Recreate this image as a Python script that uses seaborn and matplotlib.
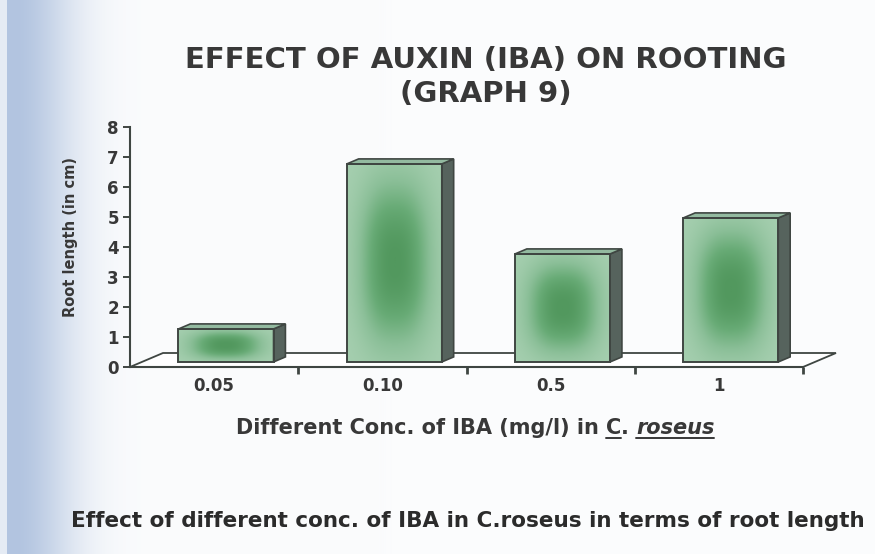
import numpy as np
import pandas as pd
import matplotlib
matplotlib.use("Agg")
import matplotlib.pyplot as plt
import seaborn as sns
from matplotlib.colors import LinearSegmentedColormap
from matplotlib.patches import Polygon
from matplotlib.lines import Line2D

# data
concentrations = ["0.05", "0.10", "0.5", "1"]
root_length = [1.1, 6.6, 3.6, 4.8]
y_ticks = [0, 1, 2, 3, 4, 5, 6, 7, 8]

TITLE = "EFFECT OF AUXIN (IBA) ON ROOTING\n(GRAPH 9)"
Y_LABEL = "Root length (in cm)"
CAPTION = "Effect of different conc. of IBA in C.roseus in terms of root length"
X_LABEL_PARTS = [
    ("Different Conc. of IBA (mg/l) in ", "normal", False),
    ("C", "normal", True),
    (". ", "normal", False),
    ("roseus", "italic", True),
]

W, H = 875, 554
TEXT_COL = "#383838"
LINE_COL = "#3f4642"

sns.set_theme(style="white")
plt.rcParams["font.family"] = ["DejaVu Sans"]
plt.rcParams["font.weight"] = "bold"
plt.rcParams["axes.labelweight"] = "bold"

fig = plt.figure(figsize=(W / 100, H / 100), dpi=100)

# scanned page background: bluish strip at the left edge
bg = fig.add_axes([0, 0, 1, 1], zorder=0)
xs = np.arange(W)
a = np.exp(-((np.clip(xs - 12, 0, None)) / 62.0) ** 2)
a[xs < 7] = 0.3
blue = np.array([178, 196, 224]) / 255.0
white = np.array([251, 252, 253]) / 255.0
row = white[None, :] * (1 - a[:, None]) + blue[None, :] * a[:, None]
bg.imshow(np.repeat(row[None, :, :], 10, axis=0), aspect="auto", extent=(0, 1, 0, 1))
bg.axis("off")

# axes = front plane of the 3-D chart
ax = fig.add_axes([130 / W, (H - 367) / H, 673 / W, 240 / H], zorder=1)
ax.patch.set_alpha(0)

df = pd.DataFrame({"conc": concentrations, "length": root_length})
sns.barplot(data=df, x="conc", y="length", ax=ax, width=0.565, color="#9fcaa9",
            edgecolor=LINE_COL, linewidth=1.4, zorder=4)

n = len(concentrations)
ax.set_xlim(-0.5, n - 0.5)
ax.set_ylim(y_ticks[0], y_ticks[-1])

# pixel -> data conversion for the oblique depth
px_x = ax.bbox.width / n
px_y = ax.bbox.height / (y_ticks[-1] - y_ticks[0])
depth_x, depth_y = 33 / px_x, 14 / px_y
frac = 0.36
sx, sy = frac * depth_x, frac * depth_y  # bars sit a bit behind the front edge
bx, by = frac * depth_x, frac * depth_y  # bar depth

# floor
floor = Polygon([(-0.5, 0), (n - 0.5, 0), (n - 0.5 + depth_x, depth_y), (-0.5 + depth_x, depth_y)],
                closed=True, facecolor="white", edgecolor=LINE_COL, linewidth=1.3,
                zorder=1, clip_on=False)
ax.add_patch(floor)

cmap = LinearSegmentedColormap.from_list("bar", ["#a6cfb0", "#8bbf98", "#68ab76", "#52985e"])
u = np.linspace(-1, 1, 60)
v = np.linspace(-1, 1, 140)
U, V = np.meshgrid(u, v)
grad = np.exp(-(np.abs(U) / 0.72) ** 2.5 - (np.abs(V) / 0.8) ** 2.5)

bars = [p for p in ax.patches if p is not floor]
for p in bars:
    x0, w, h = p.get_x() + sx, p.get_width(), p.get_height()
    p.set_x(x0)
    p.set_y(sy)
    p.set_facecolor("none")
    ax.imshow(grad, extent=(x0, x0 + w, sy, sy + h), cmap=cmap, aspect="auto",
              interpolation="bicubic", zorder=3, vmin=0, vmax=1)
    side = Polygon([(x0 + w, sy), (x0 + w + bx, sy + by), (x0 + w + bx, sy + h + by), (x0 + w, sy + h)],
                   closed=True, facecolor="#56635d", edgecolor=LINE_COL, linewidth=1.2, zorder=3.5)
    top = Polygon([(x0, sy + h), (x0 + bx, sy + h + by), (x0 + w + bx, sy + h + by), (x0 + w, sy + h)],
                  closed=True, facecolor="#93baa0", edgecolor=LINE_COL, linewidth=1.2, zorder=3.5)
    ax.add_patch(side)
    ax.add_patch(top)

ax.set_xlim(-0.5, n - 0.5)
ax.set_ylim(y_ticks[0], y_ticks[-1])
ax.set_aspect("auto")

# axes styling
for s in ["top", "right"]:
    ax.spines[s].set_visible(False)
for s in ["left", "bottom"]:
    ax.spines[s].set_color(LINE_COL)
    ax.spines[s].set_linewidth(1.5)
    ax.spines[s].set_zorder(2)

ax.set_yticks(y_ticks)
ax.tick_params(axis="y", length=5, width=1.4, color=LINE_COL, pad=3, labelsize=12,
               labelcolor=TEXT_COL, left=True)
ax.set_xticks(np.arange(n) + 0.5, minor=True)
ax.tick_params(axis="x", which="major", length=0, pad=7, labelsize=12, labelcolor=TEXT_COL)
ax.tick_params(axis="x", which="minor", length=5, width=2, color=LINE_COL, bottom=True, direction="out")
for lab in ax.get_xticklabels() + ax.get_yticklabels():
    lab.set_fontweight("bold")

ax.set_xlabel("")
ax.set_ylabel(Y_LABEL, fontsize=10.5, color=TEXT_COL)
ax.yaxis.set_label_coords(-0.078, 0.54)

# title
fig.text(486 / W, 1 - 77 / H, TITLE, ha="center", va="center", fontsize=21,
         color=TEXT_COL, linespacing=1.3, fontweight="bold")

# x label made of pieces so C and roseus can be underlined
renderer = fig.canvas.get_renderer()
xl_size = 15
xl_y = 1 - 434 / H
pieces = []
for txt, style, _ in X_LABEL_PARTS:
    t = fig.text(0, xl_y, txt, fontsize=xl_size, style=style, fontweight="bold",
                 color=TEXT_COL, ha="left", va="baseline")
    pieces.append(t)
widths = [t.get_window_extent(renderer).width for t in pieces]
cur = 475 - sum(widths) / 2
for (txt, style, under), t, wd in zip(X_LABEL_PARTS, pieces, widths):
    t.set_x(cur / W)
    if under:
        yline = xl_y - 4 / H
        fig.add_artist(Line2D([cur / W, (cur + wd) / W], [yline, yline],
                              color=TEXT_COL, linewidth=1.4))
    cur += wd

# caption
fig.text(468 / W, 1 - 521 / H, CAPTION, ha="center", va="center", fontsize=15.5,
         color="#2b2b2b", fontweight="bold")

fig.savefig("out.png", dpi=100)
